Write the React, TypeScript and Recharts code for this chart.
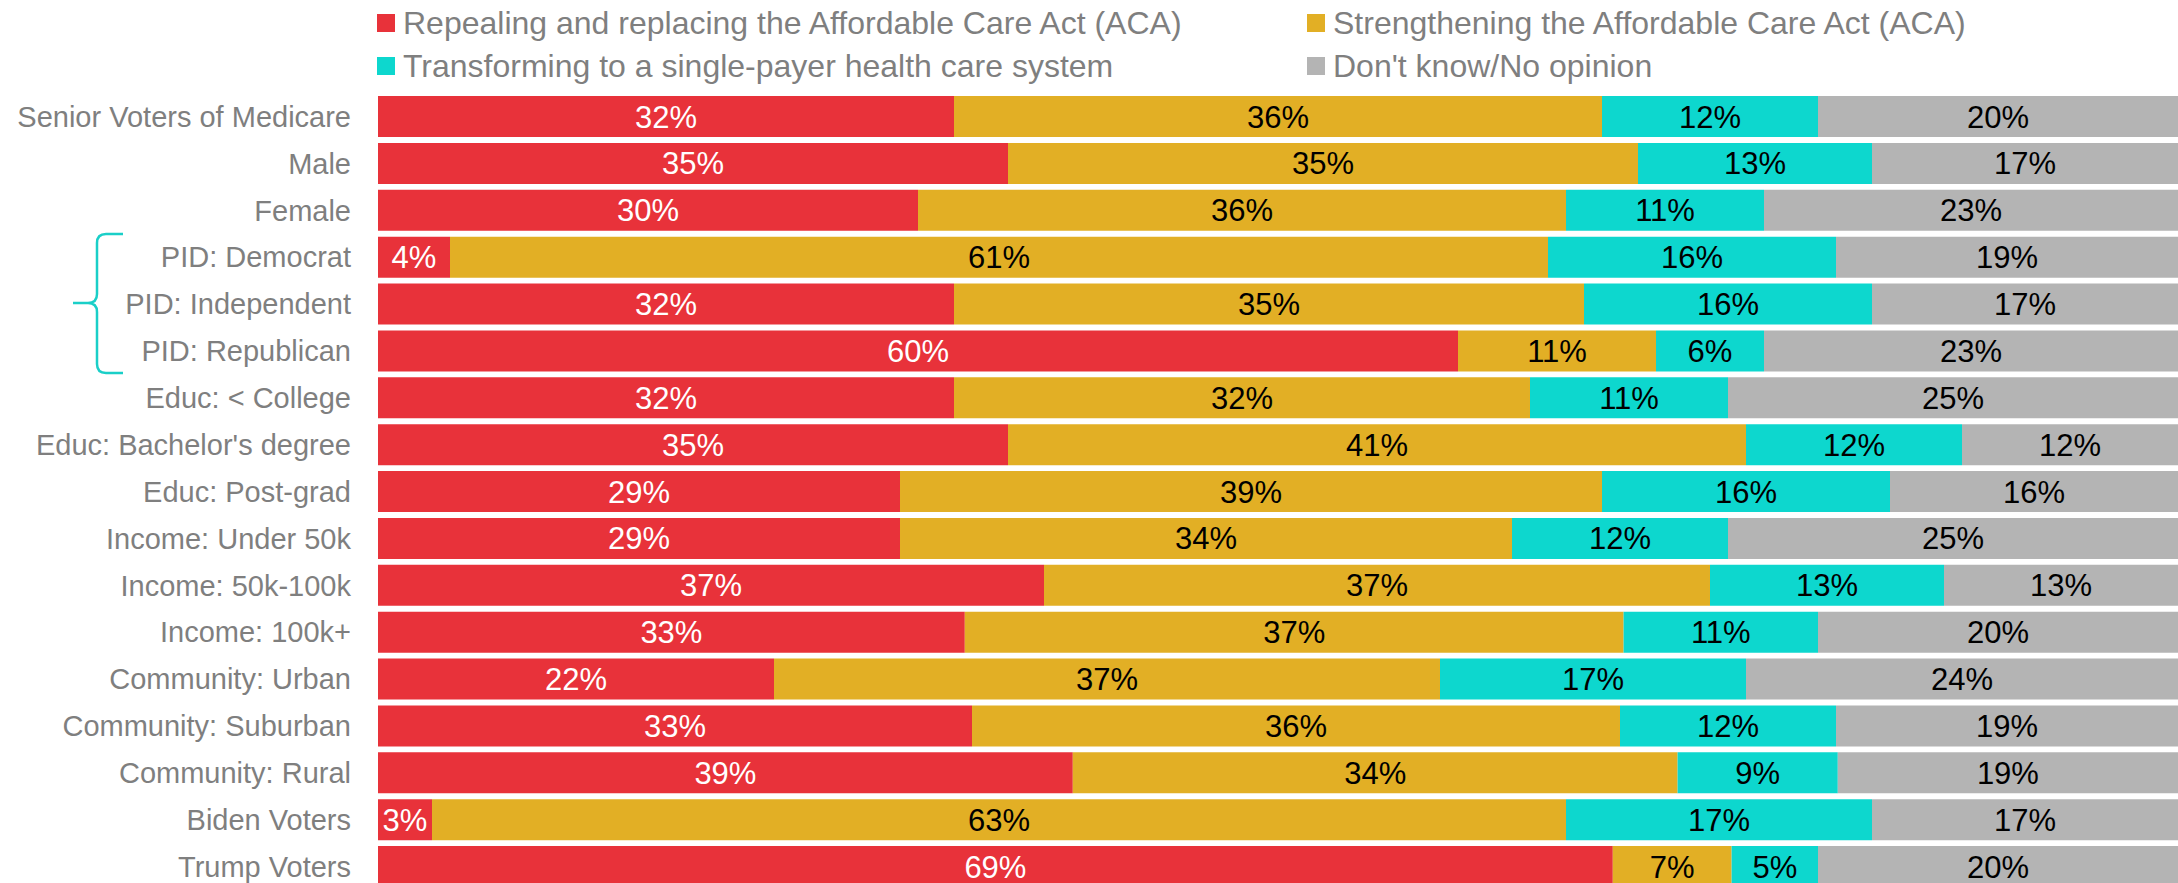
import React from 'react';
import { BarChart, Bar, XAxis, YAxis, LabelList, Legend } from 'recharts';

const categories = [
  'Senior Voters of Medicare',
  'Male',
  'Female',
  'PID: Democrat',
  'PID: Independent',
  'PID: Republican',
  'Educ: < College',
  "Educ: Bachelor's degree",
  'Educ: Post-grad',
  'Income: Under 50k',
  'Income: 50k-100k',
  'Income: 100k+',
  'Community: Urban',
  'Community: Suburban',
  'Community: Rural',
  'Biden Voters',
  'Trump Voters',
];

const repeal = [32, 35, 30, 4, 32, 60, 32, 35, 29, 29, 37, 32.6, 22, 33, 38.6, 3, 68.6];
const strengthen = [36, 35, 36, 61, 35, 11, 32, 41, 39, 34, 37, 36.6, 37, 36, 33.6, 63, 6.6];
const singlePayer = [12, 13, 11, 16, 16, 6, 11, 12, 16, 12, 13, 10.8, 17, 12, 8.9, 17, 4.8];
const dontKnow = [20, 17, 23, 19, 17, 23, 25, 12, 16, 25, 13, 20, 24, 19, 18.9, 17, 20];

const seriesKeys = ['repeal', 'strengthen', 'singlePayer', 'dontKnow'];
const seriesNames = [
  'Repealing and replacing the Affordable Care Act (ACA)',
  'Strengthening the Affordable Care Act (ACA)',
  'Transforming to a single-payer health care system',
  "Don't know/No opinion",
];
const seriesColors = ['#E8323A', '#E2AF25', '#0DD7CE', '#B4B4B4'];
const labelColors = ['#FFFFFF', '#000000', '#000000', '#000000'];

const data = categories.map((category, i) => ({
  category,
  repeal: repeal[i],
  strengthen: strengthen[i],
  singlePayer: singlePayer[i],
  dontKnow: dontKnow[i],
}));

const FONT = '"Liberation Sans", Arial, Helvetica, sans-serif';

const CategoryTick = (props: any) => {
  const { x, y, payload } = props;
  return (
    <text
      x={x}
      y={y}
      dy="0.355em"
      textAnchor="end"
      fill="#7F7F7F"
      fontSize={29}
      fontFamily={FONT}
    >
      {payload.value}
    </text>
  );
};

const LegendContent = () => (
  <div
    style={{
      display: 'grid',
      gridTemplateColumns: '930px auto',
      gridAutoRows: '43px',
      paddingTop: 1,
      fontFamily: FONT,
      fontSize: 32,
      color: '#7F7F7F',
    }}
  >
    {seriesNames.map((name, i) => (
      <div key={name} style={{ display: 'flex', alignItems: 'center', whiteSpace: 'nowrap' }}>
        <span
          style={{
            display: 'inline-block',
            width: 18,
            height: 18,
            background: seriesColors[i],
            marginRight: 8,
            flex: '0 0 auto',
          }}
        />
        <span style={{ lineHeight: '36px' }}>{name}</span>
      </div>
    ))}
  </div>
);

const Bracket = () => (
  <svg
    width={140}
    height={400}
    style={{ position: 'absolute', left: 0, top: 0, pointerEvents: 'none' }}
  >
    <path
      d="M123,234 L106,234 Q97,234 97,243 L97,294 Q97,303 88,303 L73,303 L88,303 Q97,303 97,312 L97,364 Q97,373 106,373 L123,373"
      fill="none"
      stroke="#1ACFC8"
      strokeWidth={2.5}
    />
  </svg>
);

export default function App() {
  return (
    <div
      style={{
        position: 'fixed',
        left: 0,
        top: 0,
        width: 2178,
        height: 883,
        overflow: 'hidden',
        background: '#FFFFFF',
      }}
    >
      <BarChart
        layout="vertical"
        width={2178}
        height={890}
        data={data}
        margin={{ top: 93, right: 0, bottom: 0, left: 0 }}
        barSize={41}
      >
        <XAxis type="number" domain={[0, 100]} hide />
        <YAxis
          type="category"
          dataKey="category"
          width={378}
          tickLine={false}
          axisLine={false}
          tickSize={0}
          tickMargin={27}
          interval={0}
          tick={<CategoryTick />}
        />
        <Legend
          layout="horizontal"
          verticalAlign="middle"
          align="center"
          wrapperStyle={{ top: 0, left: 377, width: 1800, height: 90 }}
          content={<LegendContent />}
        />
        {seriesKeys.map((key, i) => (
          <Bar
            key={key}
            dataKey={key}
            name={seriesNames[i]}
            stackId="a"
            fill={seriesColors[i]}
            isAnimationActive={false}
          >
            <LabelList
              dataKey={key}
              position="center"
              fill={labelColors[i]}
              fontSize={31}
              fontFamily={FONT}
              formatter={(v: any) => `${Math.round(Number(v))}%`}
            />
          </Bar>
        ))}
      </BarChart>
      <Bracket />
    </div>
  );
}
